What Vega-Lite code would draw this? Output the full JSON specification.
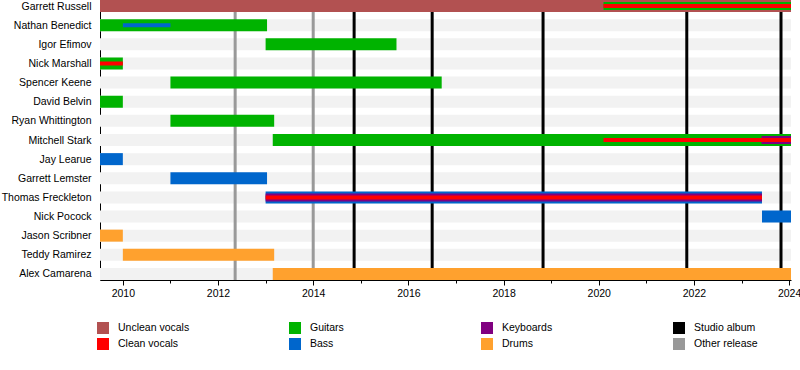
{
  "$schema": "https://vega.github.io/schema/vega-lite/v6.json",
  "width": 691,
  "height": 280,
  "autosize": {"type": "none"},
  "padding": {"left": 100, "top": 0, "right": 9, "bottom": 90},
  "background": "white",
  "config": {
    "view": {"stroke": null},
    "font": "Liberation Sans",
    "axis": {"labelFont": "Liberation Sans", "labelColor": "#000000", "labelFontSize": 10.5, "domainColor": "#000000", "tickColor": "#000000", "grid": false, "title": null}
  },
  "datasets": {
    "members": [
      {"member": "Garrett Russell"}, {"member": "Nathan Benedict"}, {"member": "Igor Efimov"},
      {"member": "Nick Marshall"}, {"member": "Spencer Keene"}, {"member": "David Belvin"},
      {"member": "Ryan Whittington"}, {"member": "Mitchell Stark"}, {"member": "Jay Learue"},
      {"member": "Garrett Lemster"}, {"member": "Thomas Freckleton"}, {"member": "Nick Pocock"},
      {"member": "Jason Scribner"}, {"member": "Teddy Ramirez"}, {"member": "Alex Camarena"}
    ],
    "spans": [
      {"member": "Garrett Russell", "role": "Unclean vocals", "start": 2009.52, "end": 2024.04, "tier": 1},
      {"member": "Garrett Russell", "role": "Guitars", "start": 2020.1, "end": 2024.04, "tier": 2},
      {"member": "Garrett Russell", "role": "Clean vocals", "start": 2020.1, "end": 2024.04, "tier": 3},
      {"member": "Nathan Benedict", "role": "Guitars", "start": 2009.52, "end": 2013.03, "tier": 1},
      {"member": "Nathan Benedict", "role": "Bass", "start": 2010.0, "end": 2011.0, "tier": 3},
      {"member": "Igor Efimov", "role": "Guitars", "start": 2013.0, "end": 2015.75, "tier": 1},
      {"member": "Nick Marshall", "role": "Guitars", "start": 2009.52, "end": 2010.0, "tier": 1},
      {"member": "Nick Marshall", "role": "Clean vocals", "start": 2009.52, "end": 2010.0, "tier": 3},
      {"member": "Spencer Keene", "role": "Guitars", "start": 2011.0, "end": 2016.7, "tier": 1},
      {"member": "David Belvin", "role": "Guitars", "start": 2009.52, "end": 2010.0, "tier": 1},
      {"member": "Ryan Whittington", "role": "Guitars", "start": 2011.0, "end": 2013.18, "tier": 1},
      {"member": "Mitchell Stark", "role": "Guitars", "start": 2013.15, "end": 2024.04, "tier": 1},
      {"member": "Mitchell Stark", "role": "Keyboards", "start": 2023.42, "end": 2024.04, "tier": 2},
      {"member": "Mitchell Stark", "role": "Clean vocals", "start": 2020.1, "end": 2024.04, "tier": 3},
      {"member": "Jay Learue", "role": "Bass", "start": 2009.52, "end": 2010.0, "tier": 1},
      {"member": "Garrett Lemster", "role": "Bass", "start": 2011.0, "end": 2013.03, "tier": 1},
      {"member": "Thomas Freckleton", "role": "Bass", "start": 2013.0, "end": 2023.43, "tier": 1},
      {"member": "Thomas Freckleton", "role": "Keyboards", "start": 2013.0, "end": 2023.43, "tier": 2},
      {"member": "Thomas Freckleton", "role": "Clean vocals", "start": 2013.0, "end": 2023.43, "tier": 3},
      {"member": "Nick Pocock", "role": "Bass", "start": 2023.43, "end": 2024.04, "tier": 1},
      {"member": "Jason Scribner", "role": "Drums", "start": 2009.52, "end": 2010.0, "tier": 1},
      {"member": "Teddy Ramirez", "role": "Drums", "start": 2010.0, "end": 2013.18, "tier": 1},
      {"member": "Alex Camarena", "role": "Drums", "start": 2013.15, "end": 2024.04, "tier": 1}
    ],
    "releases": [
      {"role": "Other release", "year": 2012.36},
      {"role": "Other release", "year": 2014.0},
      {"role": "Studio album", "year": 2014.86},
      {"role": "Studio album", "year": 2016.5},
      {"role": "Studio album", "year": 2018.83},
      {"role": "Studio album", "year": 2021.85},
      {"role": "Studio album", "year": 2023.83}
    ]
  },
  "resolve": {"scale": {"x": "shared", "color": "shared", "y": "shared"}, "axis": {"x": "independent"}},
  "layer": [
    {
      "data": {"name": "members"},
      "mark": {"type": "bar", "color": "#f2f2f2", "size": 12},
      "encoding": {
        "x": {"datum": 2009.52, "type": "quantitative", "scale": {"domain": [2009.52, 2024.04], "nice": false, "zero": false}, "axis": null},
        "x2": {"datum": 2024.04},
        "y": {"field": "member", "type": "nominal", "sort": null, "scale": {"type": "point", "padding": 0.32}, "axis": {"ticks": false, "labelPadding": 9, "domain": true}}
      }
    },
    {
      "data": {"name": "releases"},
      "mark": {"type": "rule", "strokeWidth": 3},
      "encoding": {
        "x": {"field": "year", "type": "quantitative", "axis": {"orient": "bottom", "values": [2011, 2013, 2015, 2017, 2019, 2021, 2023], "labels": false, "domain": false, "tickSize": 3}},
        "color": {"field": "role", "type": "nominal"}
      }
    },
    {
      "data": {"name": "spans"},
      "transform": [{"filter": "datum.tier == 1"}],
      "mark": {"type": "bar", "size": 12},
      "encoding": {
        "x": {"field": "start", "type": "quantitative", "axis": {"orient": "bottom", "values": [2010, 2012, 2014, 2016, 2018, 2020, 2022, 2024], "format": "d", "tickSize": 5, "labelPadding": 3, "domain": true}},
        "x2": {"field": "end"},
        "y": {"field": "member", "type": "nominal", "sort": null},
        "color": {
          "field": "role", "type": "nominal",
          "scale": {
            "domain": ["Unclean vocals", "Guitars", "Keyboards", "Studio album", "Clean vocals", "Bass", "Drums", "Other release"],
            "range": ["#b25151", "#00b300", "#800080", "#000000", "#ff0000", "#0066cc", "#ffa12e", "#999999"]
          },
          "legend": {
            "title": null, "orient": "none", "legendX": -3, "legendY": 322, "direction": "horizontal", "columns": 4,
            "symbolType": "square", "symbolSize": 144, "symbolStrokeWidth": 0, "symbolOpacity": 1,
            "gridAlign": "all", "columnPadding": 99, "rowPadding": 4, "labelFontSize": 10.5, "labelOffset": 9,
            "labelColor": "#000000", "labelFont": "Liberation Sans", "padding": 0
          }
        }
      }
    },
    {
      "data": {"name": "spans"},
      "transform": [{"filter": "datum.tier == 2"}],
      "mark": {"type": "bar", "size": 8},
      "encoding": {
        "x": {"field": "start", "type": "quantitative", "axis": null},
        "x2": {"field": "end"},
        "y": {"field": "member", "type": "nominal", "sort": null},
        "color": {"field": "role", "type": "nominal"}
      }
    },
    {
      "data": {"name": "spans"},
      "transform": [{"filter": "datum.tier == 3"}],
      "mark": {"type": "bar", "size": 4},
      "encoding": {
        "x": {"field": "start", "type": "quantitative", "axis": null},
        "x2": {"field": "end"},
        "y": {"field": "member", "type": "nominal", "sort": null},
        "color": {"field": "role", "type": "nominal"}
      }
    }
  ]
}
